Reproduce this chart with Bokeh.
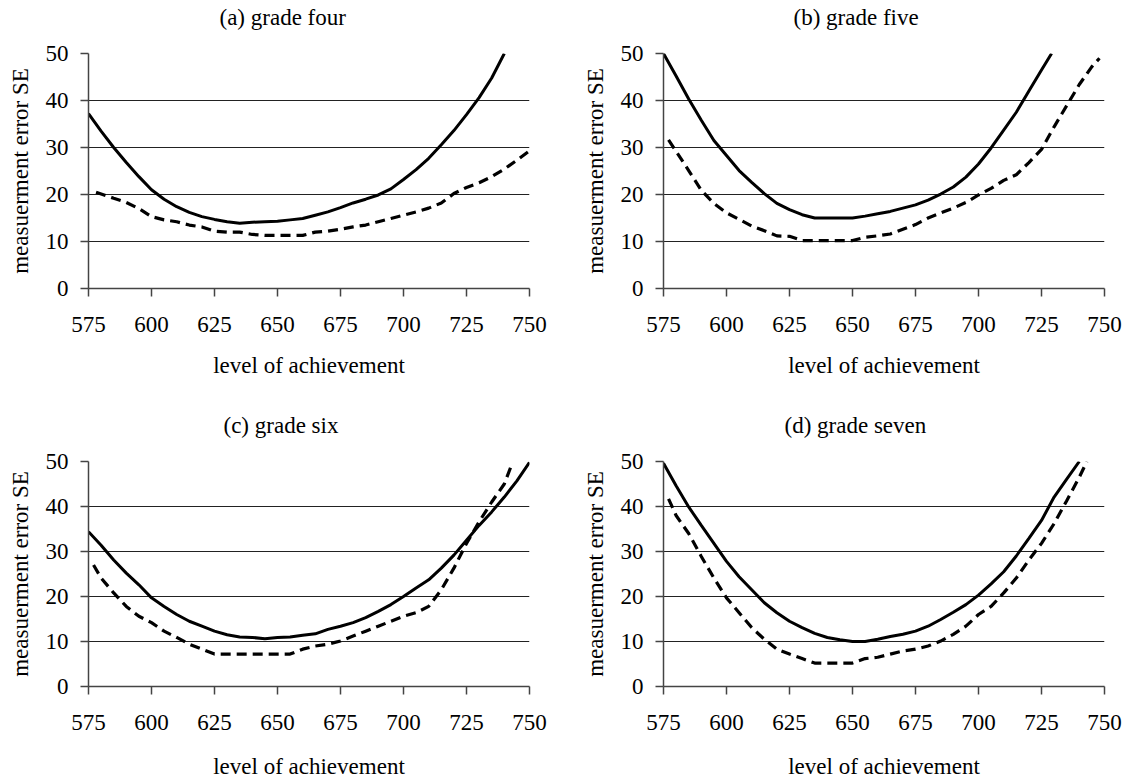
from bokeh.plotting import figure
from bokeh.layouts import column, row
from bokeh.models import Range1d, FixedTicker, Title
from bokeh.embed import file_html
from bokeh.resources import INLINE

# ---------------- data ----------------
titles = ["(a) grade four", "(b) grade five", "(c) grade six", "(d) grade seven"]
x_label = "level of achievement"
y_label = "measuerment error SE"
x_ticks = [575, 600, 625, 650, 675, 700, 725, 750]
y_ticks = [0, 10, 20, 30, 40, 50]

# (a) grade four
a_solid_x = [575, 580, 585, 590, 595, 600, 605, 610, 615, 620, 625, 630, 635, 640, 645, 650, 655,
             660, 665, 670, 675, 680, 685, 690, 695, 700, 705, 710, 715, 720, 725, 730, 735, 740]
a_solid_y = [37.2, 33.5, 30.0, 26.8, 23.8, 21.0, 19.0, 17.4, 16.2, 15.3, 14.7, 14.2, 13.9, 14.1, 14.2, 14.3, 14.6,
             14.9, 15.6, 16.3, 17.2, 18.2, 19.0, 19.9, 21.2, 23.2, 25.3, 27.7, 30.6, 33.6, 37.0, 40.6, 44.8, 50.0]
a_dash_x = [578, 585, 590, 595, 600, 605, 610, 615, 620, 625, 630, 635, 640, 645, 650, 655, 660, 665,
            670, 675, 680, 685, 690, 695, 700, 705, 710, 715, 720, 725, 730, 735, 740, 745, 750]
a_dash_y = [20.5, 19.2, 18.3, 17.0, 15.3, 14.6, 14.2, 13.5, 13.1, 12.2, 12.0, 12.0, 11.5, 11.3, 11.3, 11.3, 11.3, 12.0,
            12.2, 12.6, 13.1, 13.5, 14.2, 14.9, 15.6, 16.3, 17.1, 18.2, 20.2, 21.5, 22.5, 23.8, 25.4, 27.3, 29.3]

# (b) grade five
b_solid_x = [575, 580, 585, 590, 595, 600, 605, 610, 615, 620, 625, 630, 635, 640, 645, 650, 655,
             660, 665, 670, 675, 680, 685, 690, 695, 700, 705, 710, 715, 720, 725, 729]
b_solid_y = [50.0, 45.2, 40.3, 35.8, 31.5, 28.3, 25.1, 22.6, 20.2, 18.1, 16.8, 15.7, 15.0, 15.0, 15.0, 15.0, 15.4,
             15.9, 16.4, 17.1, 17.8, 18.8, 20.1, 21.6, 23.7, 26.5, 29.9, 33.7, 37.5, 42.0, 46.5, 50.0]
b_dash_x = [577, 580, 585, 590, 595, 600, 605, 610, 615, 620, 625, 630, 635, 640, 645, 650, 655, 660, 665,
            670, 675, 680, 685, 690, 695, 700, 705, 710, 715, 720, 725, 730, 735, 740, 745, 748]
b_dash_y = [31.6, 29.2, 25.1, 20.9, 18.1, 16.1, 14.7, 13.3, 12.3, 11.2, 11.1, 10.2, 10.2, 10.2, 10.2, 10.2, 10.9, 11.2, 11.6,
            12.6, 13.6, 15.0, 16.1, 17.1, 18.3, 19.9, 21.3, 23.0, 24.2, 26.8, 29.6, 34.4, 38.9, 43.4, 47.2, 49.0]

# (c) grade six
c_solid_x = [575, 580, 585, 590, 595, 600, 605, 610, 615, 620, 625, 630, 635, 640, 645, 650, 655, 660,
             665, 670, 675, 680, 685, 690, 695, 700, 705, 710, 715, 720, 725, 730, 735, 740, 745, 750]
c_solid_y = [34.4, 31.4, 28.1, 25.2, 22.6, 19.7, 17.8, 16.0, 14.5, 13.4, 12.3, 11.5, 11.0, 10.9, 10.6, 10.9, 11.0, 11.4,
             11.7, 12.7, 13.4, 14.2, 15.3, 16.7, 18.2, 20.0, 21.9, 23.7, 26.3, 29.2, 32.5, 35.8, 38.8, 42.1, 45.7, 49.8]
c_dash_x = [577, 580, 585, 590, 595, 600, 605, 610, 615, 620, 625, 630, 635, 640, 645, 650, 655, 660, 665,
            670, 675, 680, 685, 690, 695, 700, 705, 710, 715, 720, 725, 730, 735, 740, 743]
c_dash_y = [27.0, 24.1, 20.8, 17.8, 15.6, 14.2, 12.3, 10.9, 9.4, 8.3, 7.2, 7.2, 7.2, 7.2, 7.2, 7.2, 7.2, 8.3, 9.0,
            9.4, 10.1, 11.2, 12.3, 13.4, 14.5, 15.6, 16.4, 17.8, 21.5, 26.3, 31.8, 36.6, 41.0, 45.0, 49.4]

# (d) grade seven
d_solid_x = [575, 580, 585, 590, 595, 600, 605, 610, 615, 620, 625, 630, 635, 640, 645, 650, 655, 660,
             665, 670, 675, 680, 685, 690, 695, 700, 705, 710, 715, 720, 725, 730, 735, 740]
d_solid_y = [49.6, 44.6, 39.9, 35.8, 31.8, 27.8, 24.4, 21.5, 18.6, 16.4, 14.5, 13.1, 11.8, 10.9, 10.4, 10.0, 10.0, 10.5,
             11.1, 11.6, 12.3, 13.4, 14.9, 16.5, 18.2, 20.3, 22.8, 25.5, 29.0, 32.9, 36.9, 42.1, 46.1, 50.0]
d_dash_x = [577, 580, 585, 590, 595, 600, 605, 610, 615, 620, 625, 630, 635, 640, 645, 650, 655, 660, 665,
            670, 675, 680, 685, 690, 695, 700, 705, 710, 715, 720, 725, 730, 735, 740, 743]
d_dash_y = [41.7, 38.0, 34.0, 28.9, 24.1, 19.7, 16.4, 13.1, 10.5, 8.3, 7.2, 6.2, 5.2, 5.2, 5.2, 5.2, 6.2, 6.5, 7.2,
            7.9, 8.3, 9.0, 10.1, 11.6, 13.4, 16.0, 17.8, 20.8, 24.1, 28.1, 31.8, 36.2, 41.3, 46.5, 50.0]

series = [
    (a_solid_x, a_solid_y, a_dash_x, a_dash_y),
    (b_solid_x, b_solid_y, b_dash_x, b_dash_y),
    (c_solid_x, c_solid_y, c_dash_x, c_dash_y),
    (d_solid_x, d_solid_y, d_dash_x, d_dash_y),
]

FONT = "Liberation Serif"

# layout: (fig_width, fig_height, left, right, top, bottom, title_offset, spacer, xlabel_standoff)
layouts = [
    (565, 390, 88, 36, 53, 102, 131, 21, 18),
    (565, 390, 98, 26, 53, 102, 130, 21, 18),
    (565, 391, 88, 36, 71, 93, 135, 21, 21),
    (565, 391, 98, 26, 71, 93, 121, 21, 21),
]


def make_panel(i):
    fw, fh, l, r, t, b, toff, spacer, xls = layouts[i]
    sx, sy, dx, dy = series[i]
    p = figure(width=fw, height=fh, output_backend="svg", toolbar_location=None,
               x_range=Range1d(575, 750), y_range=Range1d(0, 50),
               min_border_left=l, min_border_right=r, min_border_top=t, min_border_bottom=b)
    # real title (outer), invisible spacer title next to the frame
    p.title.text = titles[i]
    p.title.align = "left"
    p.title.offset = toff
    p.title.standoff = 0
    p.title.text_font = FONT
    p.title.text_font_size = "23px"
    p.title.text_font_style = "normal"
    p.title.text_color = "black"
    p.add_layout(Title(text=" ", text_font_size="1px", standoff=spacer), "above")

    p.outline_line_color = None
    p.background_fill_color = "white"
    p.border_fill_color = "white"
    p.xgrid.grid_line_color = None
    p.ygrid.grid_line_color = "#222222"
    p.ygrid.grid_line_width = 1
    p.ygrid.ticker = FixedTicker(ticks=y_ticks[1:])

    p.xaxis.ticker = FixedTicker(ticks=x_ticks)
    p.yaxis.ticker = FixedTicker(ticks=y_ticks)
    for ax in (p.xaxis[0], p.yaxis[0]):
        ax.axis_line_color = "#444444"
        ax.axis_line_width = 1.5
        ax.major_tick_line_color = "#444444"
        ax.major_tick_line_width = 1.5
        ax.major_tick_in = 0
        ax.major_tick_out = 8
        ax.minor_tick_line_color = None
        ax.major_label_text_font = FONT
        ax.major_label_text_font_size = "23px"
        ax.major_label_text_color = "black"
        ax.axis_label_text_font = FONT
        ax.axis_label_text_font_size = "23px"
        ax.axis_label_text_font_style = "normal"
        ax.axis_label_text_color = "black"
    p.xaxis.major_label_standoff = 20
    p.yaxis.major_label_standoff = 12
    p.xaxis.axis_label = x_label
    p.yaxis.axis_label = y_label
    p.xaxis.axis_label_standoff = xls
    p.yaxis.axis_label_standoff = 10

    p.line(sx, sy, line_color="black", line_width=3)
    p.line(dx, dy, line_color="black", line_width=3.2, line_dash="10 6")
    return p


panels = [make_panel(i) for i in range(4)]
layout = column(row(panels[0], panels[1]), row(panels[2], panels[3]))

open("out.html", "w").write(file_html(layout, INLINE))
